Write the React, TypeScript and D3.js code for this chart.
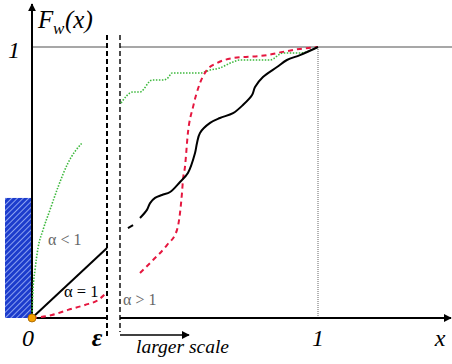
import React from "react";
import * as d3 from "d3";

// left region: x in units of epsilon (0..1)
const greenLeftX = [0, 0.013, 0.04, 0.08, 0.147, 0.24, 0.347, 0.48, 0.667];
const greenLeftY = [0, 0.103, 0.177, 0.258, 0.325, 0.399, 0.483, 0.572, 0.646];
const redLeftX = [0, 0.267, 0.48, 0.707, 0.88, 1.0];
const redLeftY = [0, 0.011, 0.03, 0.048, 0.066, 0.096];
const blackLeftX = [0, 1];
const blackLeftY = [0, 0.258];

// right region (larger scale): x 0..1
const blackStubX = [0.04, 0.066];
const blackStubY = [0.332, 0.343];
const blackRightX = [0.101, 0.136, 0.152, 0.177, 0.212, 0.253, 0.303, 0.343, 0.379, 0.389, 0.404, 0.455, 0.505, 0.571, 0.621, 0.667, 0.682, 0.722, 0.793, 0.843, 0.909, 1];
const blackRightY = [0.369, 0.399, 0.424, 0.443, 0.454, 0.465, 0.502, 0.535, 0.609, 0.646, 0.683, 0.72, 0.738, 0.756, 0.786, 0.823, 0.852, 0.889, 0.926, 0.952, 0.97, 1];
const redRightX = [0.101, 0.167, 0.237, 0.288, 0.303, 0.313, 0.318, 0.328, 0.343, 0.369, 0.404, 0.439, 0.49, 0.571, 0.742, 0.823, 0.909, 1];
const redRightY = [0.166, 0.214, 0.269, 0.325, 0.387, 0.461, 0.509, 0.557, 0.683, 0.779, 0.867, 0.915, 0.941, 0.959, 0.97, 0.982, 0.993, 1];
const greenRightX = [0.005, 0.066, 0.101, 0.162, 0.217, 0.242, 0.263, 0.404, 0.455, 0.505, 0.571, 0.606, 0.758, 0.823, 0.909, 1];
const greenRightY = [0.793, 0.834, 0.834, 0.878, 0.878, 0.886, 0.904, 0.904, 0.915, 0.923, 0.945, 0.952, 0.952, 0.978, 0.978, 1];

const atomHeight = 0.443;

const W = 452, H = 364;

export default function App() {
  const xL = d3.scaleLinear().domain([0, 1]).range([32, 107]);
  const xR = d3.scaleLinear().domain([0, 1]).range([120, 318]);
  const y = d3.scaleLinear().domain([0, 1]).range([318, 47]);

  const lineL = (xs: number[], ys: number[], curve: any = d3.curveMonotoneX) =>
    d3.line<number>().x((_, i) => xL(xs[i])).y((_, i) => y(ys[i])).curve(curve)(xs) || "";
  const lineR = (xs: number[], ys: number[], curve: any = d3.curveMonotoneX) =>
    d3.line<number>().x((_, i) => xR(xs[i])).y((_, i) => y(ys[i])).curve(curve)(xs) || "";

  const serif = '"Liberation Serif", "Times New Roman", "DejaVu Serif", serif';
  const red = "#e5173f";
  const green = "#3cb83c";

  return (
    <svg width={W} height={H} style={{ position: "absolute", left: 0, top: 0 }}>
      <defs>
        <pattern id="hatch" width="4" height="4" patternUnits="userSpaceOnUse" patternTransform="rotate(45)">
          <rect width="4" height="4" fill="#1c3ccc" />
          <line x1="0.5" y1="0" x2="0.5" y2="4" stroke="#8aa0f0" strokeWidth="1" />
        </pattern>
        <marker id="arr" viewBox="0 0 10 10" refX="9" refY="5" markerWidth="8" markerHeight="8" markerUnits="userSpaceOnUse" orient="auto">
          <path d="M0,0 L10,5 L0,10 z" fill="#000" />
        </marker>
      </defs>
      <rect x={0} y={0} width={W} height={H} fill="#fff" />
      {/* atom block */}
      <rect x={5} y={y(atomHeight)} width={xL(0) - 5} height={y(0) - y(atomHeight)} fill="url(#hatch)" />

      {/* y = 1 line */}
      <line x1={xL(0)} x2={xL(1)} y1={y(1)} y2={y(1)} stroke="#8a8a8a" strokeWidth={1.5} />
      <line x1={xR(0)} x2={W} y1={y(1)} y2={y(1)} stroke="#8a8a8a" strokeWidth={1.5} />
      {/* x = 1 dotted */}
      <line x1={xR(1)} x2={xR(1)} y1={y(1)} y2={y(0)} stroke="#999" strokeWidth={1.5} strokeDasharray="1,1" />

      {/* axes */}
      <line x1={xL(0)} x2={xL(0)} y1={y(0)} y2={4} stroke="#000" strokeWidth={2} markerEnd="url(#arr)" />
      <line x1={xL(0)} x2={xL(1)} y1={y(0)} y2={y(0)} stroke="#000" strokeWidth={2} />
      <line x1={xR(0)} x2={W - 1} y1={y(0)} y2={y(0)} stroke="#000" strokeWidth={2} markerEnd="url(#arr)" />

      {/* break lines */}
      <line x1={xL(1)} x2={xL(1)} y1={35} y2={336} stroke="#000" strokeWidth={2} strokeDasharray="5,3" />
      <line x1={xR(0)} x2={xR(0)} y1={35} y2={332} stroke="#000" strokeWidth={1.4} strokeDasharray="5,3" />

      {/* larger scale arrow */}
      <line x1={xR(0)} x2={189} y1={335} y2={335} stroke="#000" strokeWidth={1.5} markerEnd="url(#arr)" />

      {/* left curves */}
      <path d={lineL(greenLeftX, greenLeftY)} fill="none" stroke={green} strokeWidth={1.6} strokeDasharray="1.5,1.5" />
      <path d={lineL(redLeftX, redLeftY)} fill="none" stroke={red} strokeWidth={2} strokeDasharray="5,4" />
      <path d={lineL(blackLeftX, blackLeftY, d3.curveLinear)} fill="none" stroke="#000" strokeWidth={2} />

      {/* right curves */}
      <path d={lineR(greenRightX, greenRightY)} fill="none" stroke={green} strokeWidth={1.6} strokeDasharray="1.5,1.5" />
      <path d={lineR(redRightX, redRightY)} fill="none" stroke={red} strokeWidth={2} strokeDasharray="5,4" />
      <path d={lineR(blackStubX, blackStubY, d3.curveLinear)} fill="none" stroke="#000" strokeWidth={2} />
      <path d={lineR(blackRightX, blackRightY, d3.curveCatmullRom)} fill="none" stroke="#000" strokeWidth={2} />

      {/* origin dot */}
      <circle cx={xL(0)} cy={y(0)} r={4} fill="#f5a000" stroke="#a06000" strokeWidth={0.8} />

      {/* labels */}
      <g style={{ fontFamily: serif }}>
        <text x={38} y={28} fontSize={25} fontStyle="italic">F</text>
        <text x={53} y={34} fontSize={17} fontStyle="italic">w</text>
        <text x={65} y={28} fontSize={25} fontStyle="italic">(x)</text>
        <text x={14} y={58} fontSize={24} fontStyle="italic" textAnchor="middle">1</text>
        <text x={28} y={346} fontSize={24} fontStyle="italic" textAnchor="middle">0</text>
        <text x={97} y={346} fontSize={26} fontStyle="italic" fontWeight="bold" textAnchor="middle">ε</text>
        <text x={xR(1)} y={346} fontSize={24} fontStyle="italic" textAnchor="middle">1</text>
        <text x={440} y={346} fontSize={24} fontStyle="italic" textAnchor="middle">x</text>
        <text x={136} y={353} fontSize={19.5} fontStyle="italic">larger scale</text>
        <text x={48} y={245} fontSize={16} fill="#666">α &lt; 1</text>
        <text x={64} y={297} fontSize={16.5} fill="#000">α = 1</text>
        <text x={123} y={305} fontSize={16} fill="#666">α &gt; 1</text>
      </g>
    </svg>
  );
}
